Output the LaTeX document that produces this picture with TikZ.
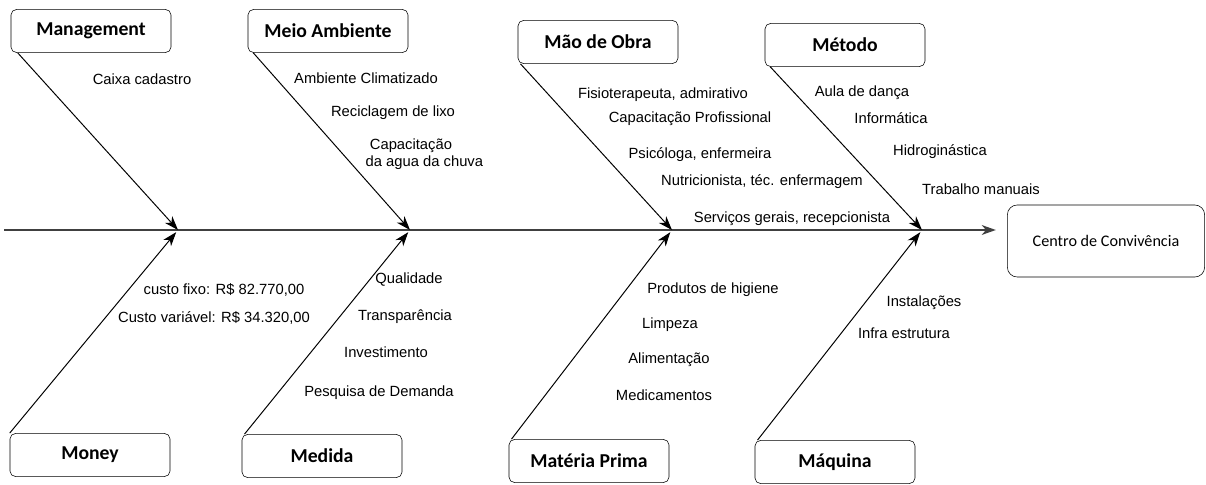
\documentclass[tikz,border=0pt]{standalone}
\usepackage{fontspec}
\setmainfont{Liberation Sans}
\newfontfamily\boxfont{Carlito}
\usetikzlibrary{positioning,arrows.meta}
\tikzset{
  causebox/.style={draw, rounded corners=4pt, minimum width=4cm, minimum height=1.08cm,
    font=\boxfont\bfseries\fontsize{14}{16}\selectfont},
  effectbox/.style={draw, rounded corners=7pt, minimum width=4.93cm, minimum height=1.8cm,
    font=\boxfont\fontsize{11.5}{13}\selectfont},
  item/.style={font=\fontsize{10.5}{12.5}\selectfont, inner sep=1pt},
  bone/.style={-{Stealth[length=10pt,width=7pt,inset=3pt]}, line width=0.7pt},
  spine/.style={-{Stealth[length=10pt,width=7pt,inset=3pt]}, line width=1.1pt, draw=black!75}
}

\begin{document}
\begin{tikzpicture}[x=0.025cm,y=-0.025cm]
\useasboundingbox (0,0) rectangle (1206,485);

% cabecas das categorias
\node[causebox] (mgmt) at (91,31) {Management};
\node[causebox] (meio) at (328,31) {Meio Ambiente};
\node[causebox] (maoobra) at (598,42) {Mão de Obra};
\node[causebox] (metodo) at (845,45) {Método};
\node[causebox] (money) at (90,455) {Money};
\node[causebox] (medida) at (322,456) {Medida};
\node[causebox] (materia) at (589,461) {Matéria Prima};
\node[causebox] (maquina) at (835,462) {Máquina};
\node[effectbox] (centro) at (1106,241) {Centro de Convivência};

% espinha
\coordinate (s0) at (4,230);
\coordinate (j1) at (178,230);
\coordinate (j2) at (410,230);
\coordinate (j3) at (672,230);
\coordinate (j4) at (922,230);
\draw[spine, shorten >=8pt] (s0) -- (s0 -| centro.west);

\draw[bone] ([xshift=5pt]mgmt.south west) -- (j1);
\draw[bone] ([xshift=4pt]meio.south west) -- (j2);
\draw[bone] ([xshift=2pt]maoobra.south west) -- (j3);
\draw[bone] ([xshift=4pt]metodo.south west) -- (j4);
\draw[bone, shorten >=2pt] (money.north west) -- (j1);
\draw[bone, shorten >=2pt] ([xshift=2pt]medida.north west) -- (j2);
\draw[bone, shorten >=2pt] ([xshift=2pt]materia.north west) -- (j3);
\draw[bone, shorten >=2pt] ([xshift=2pt]maquina.north west) -- (j4);

% causas
\node[item] (caixa) at (142,79) {Caixa cadastro};

\node[item] (climat) at (366,78) {Ambiente Climatizado};
\node[item] (recic) at (393,113) {Reciclagem de lixo};
\node[item, align=left, anchor=west] (chuva) at (364,154) {\hspace{3pt}Capacitação\\da agua da chuva};

\node[item] (fisio) at (663,95) {Fisioterapeuta, admirativo};
\node[item] (capac) at (690,119) {Capacitação Profissional};
\node[item] (psico) at (700,155) {Psicóloga, enfermeira};
\node[item] (nutri) at (762,182) {Nutricionista, téc. enfermagem};
\node[item] (serv) at (792,219) {Serviços gerais, recepcionista};

\node[item] (aula) at (862,93) {Aula de dança};
\node[item] (inform) at (891,118) {Informática};
\node[item] (hidro) at (940,152) {Hidroginástica};
\node[item] (trab) at (981,189) {Trabalho manuais};

\node[item] (fixo) at (224,290) {custo fixo: R\$ 82.770,00};
\node[item] (variavel) at (214,318) {Custo variável: R\$ 34.320,00};

\node[item] (qual) at (409,280) {Qualidade};
\node[item] (transp) at (405,317) {Transparência};
\node[item] (invest) at (386,352) {Investimento};
\node[item] (pesq) at (379,393) {Pesquisa de Demanda};

\node[item] (prod) at (713,290) {Produtos de higiene};
\node[item] (limp) at (670,325) {Limpeza};
\node[item] (alim) at (669,360) {Alimentação};
\node[item] (medic) at (664,395) {Medicamentos};

\node[item] (inst) at (924,303) {Instalações};
\node[item] (infra) at (904,333) {Infra estrutura};
\end{tikzpicture}
\end{document}
